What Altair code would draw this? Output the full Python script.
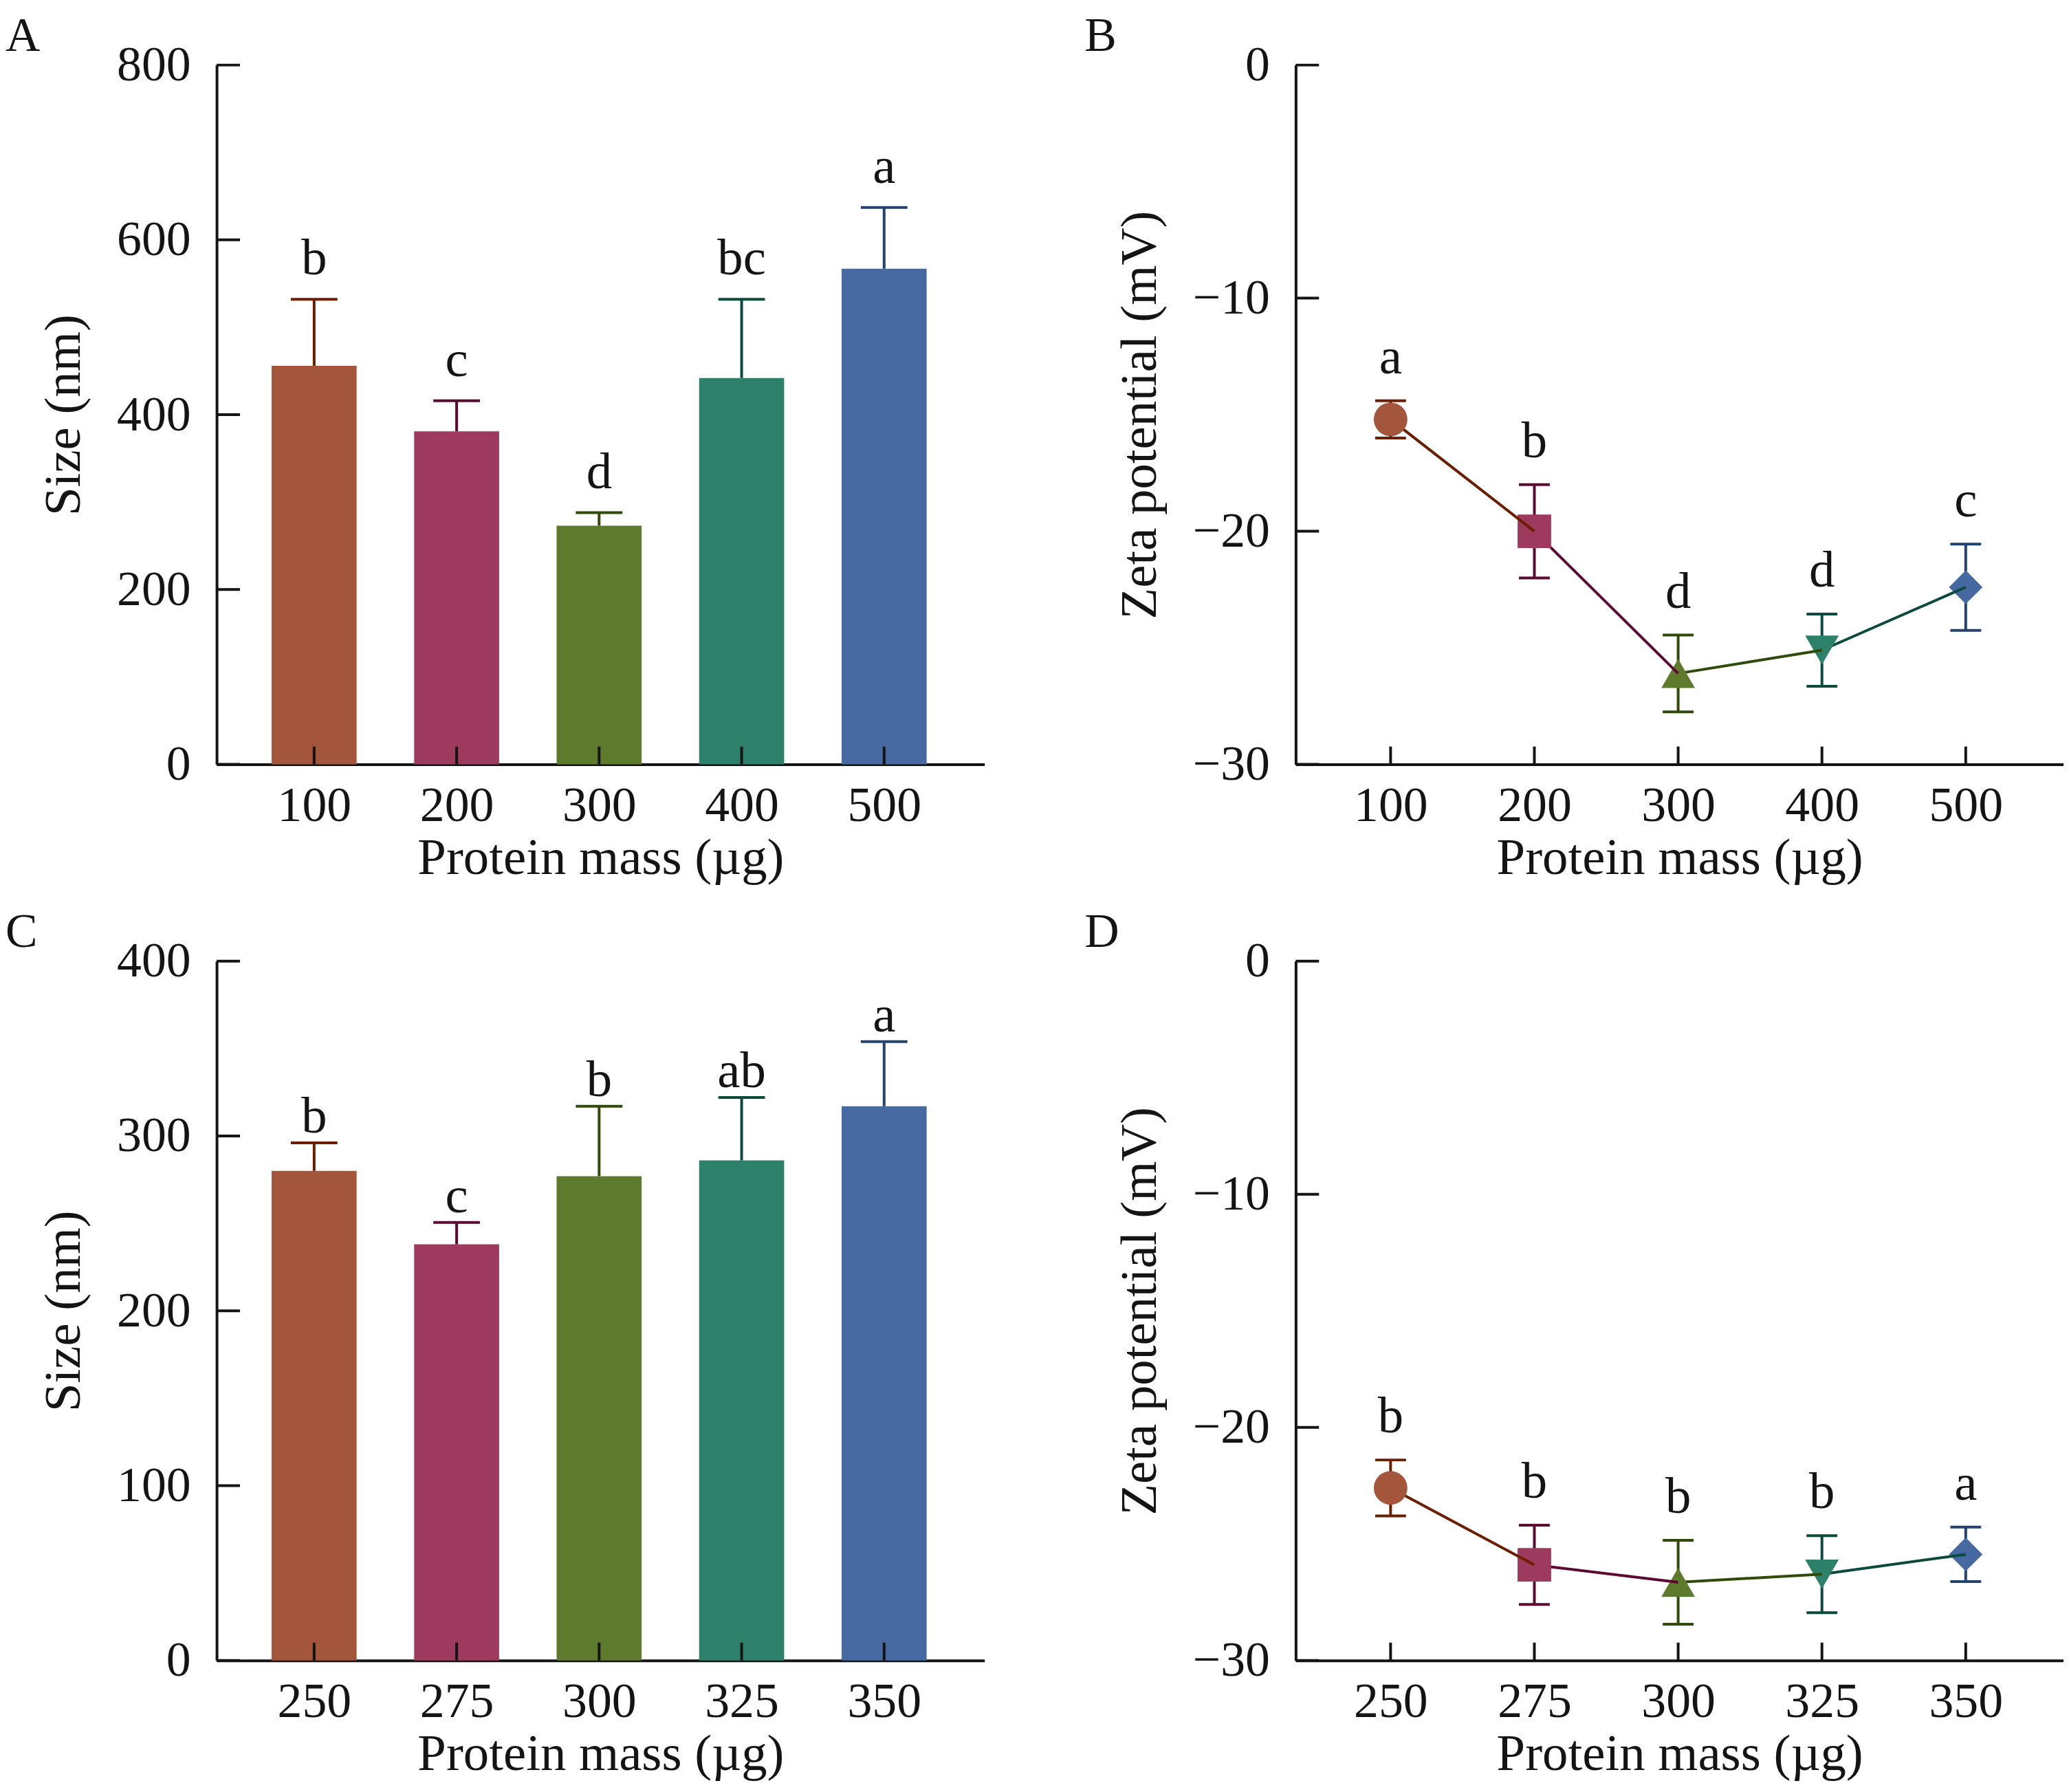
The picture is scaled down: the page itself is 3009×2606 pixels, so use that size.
import altair as alt
import pandas as pd

FONT = "Liberation Serif"
INK = "#141414"

# group colours (fill) and the darker tone used for error bars / lines
FILL = ["#A3563B", "#9E3A5D", "#5E7A2C", "#2D806A", "#4569A0"]
DARK = ["#6B1F00", "#5C0A31", "#2F4A09", "#0B4A3C", "#24426E"]
SHAPES = ["circle", "square", "triangle-up", "triangle-down", "diamond"]

# A / B: 100-500 ug protein
mass_ab = [100, 200, 300, 400, 500]
size_a = [456, 381, 273, 442, 567]
size_a_sd = [76, 35, 15, 90, 70]
letters_a = ["b", "c", "d", "bc", "a"]

zeta_b = [-15.2, -20.0, -26.1, -25.1, -22.4]
zeta_b_sd = [0.8, 2.0, 1.65, 1.55, 1.85]
letters_b = ["a", "b", "d", "d", "c"]

# C / D: 250-350 ug protein
mass_cd = [250, 275, 300, 325, 350]
size_c = [280, 238, 277, 286, 317]
size_c_sd = [16, 12.5, 40, 36, 37]
letters_c = ["b", "c", "b", "ab", "a"]

zeta_d = [-22.6, -25.9, -26.65, -26.3, -25.45]
zeta_d_sd = [1.2, 1.7, 1.8, 1.65, 1.17]
letters_d = ["b", "b", "b", "b", "a"]

size_ticks_a = [0, 200, 400, 600, 800]
size_ticks_c = [0, 100, 200, 300, 400]
zeta_ticks = [-30, -20, -10, 0]

W, H = 1120, 1020
LW = 4
XTITLE = "Protein mass (µg)"


def table(mass, val, sd, letters):
    df = pd.DataFrame({"mass": mass, "val": val, "sd": sd, "letter": letters})
    df["idx"] = range(len(df))
    df["lo"] = df["val"] - df["sd"]
    df["hi"] = df["val"] + df["sd"]
    df["mass_next"] = df["mass"].shift(-1)
    df["val_next"] = df["val"].shift(-1)
    return df


def axes(mass, xdom, ydom, yticks, ytitle):
    xs = alt.Scale(domain=xdom, nice=False, zero=False)
    ys = alt.Scale(domain=ydom, nice=False)
    xax = alt.Axis(values=mass, format="d", title=XTITLE)
    yax = alt.Axis(values=yticks, format="d", title=ytitle)

    def X(field="mass"):
        return alt.X(field + ":Q", scale=xs, axis=xax)

    def Y(field):
        return alt.Y(field + ":Q", scale=ys, axis=yax)
    return X, Y


def extras(X, Y, xvals, yvals, label):
    # inward tick marks and the panel letter
    yt = alt.Chart(pd.DataFrame({"v": yvals})).mark_rule(color=INK, strokeWidth=LW).encode(
        y=Y("v"), x=alt.value(0), x2=alt.value(34))
    xt = alt.Chart(pd.DataFrame({"m": xvals})).mark_rule(color=INK, strokeWidth=LW).encode(
        x=X("m"), y=alt.value(H), y2=alt.value(H - 26))
    lab = alt.Chart(pd.DataFrame({"p": [label]})).mark_text(
        font=FONT, fontSize=70, color=INK, align="left", baseline="middle"
    ).encode(x=alt.value(-308), y=alt.value(-42), text="p:N")
    return [yt, xt, lab]


def bar_panel(df, mass, xdom, ydom, yticks, label, dy):
    X, Y = axes(mass, xdom, ydom, yticks, "Size (nm)")
    base = alt.Chart(df)
    layers = []
    for i in range(len(df)):
        sub = base.transform_filter(alt.datum.idx == i)
        layers.append(sub.mark_bar(size=124, color=FILL[i]).encode(x=X(), y=Y("val")))
        layers.append(sub.mark_rule(color=DARK[i], strokeWidth=LW).encode(
            x=X(), y=Y("val"), y2="hi:Q"))
        layers.append(sub.mark_rule(color=DARK[i], strokeWidth=LW, xOffset=-34, x2Offset=34).encode(
            x=X(), x2="mass:Q", y=Y("hi")))
    layers.append(base.mark_text(font=FONT, fontSize=75, color=INK, baseline="alphabetic", dy=dy).encode(
        x=X(), y=Y("hi"), text="letter:N"))
    layers += extras(X, Y, mass, yticks, label)
    return alt.layer(*layers).properties(width=W, height=H)


def point_panel(df, mass, xdom, label, dy):
    X, Y = axes(mass, xdom, [-30, 0], zeta_ticks, "Zeta potential (mV)")
    base = alt.Chart(df)
    layers = []
    n = len(df)
    # draw from the last group backwards so each segment sits under its own marker
    for i in reversed(range(n)):
        sub = base.transform_filter(alt.datum.idx == i)
        if i < n - 1:
            layers.append(sub.mark_rule(color=DARK[i], strokeWidth=LW).encode(
                x=X(), y=Y("val"), x2="mass_next:Q", y2="val_next:Q"))
        layers.append(sub.mark_rule(color=DARK[i], strokeWidth=LW).encode(
            x=X(), y=Y("lo"), y2="hi:Q"))
        for end in ["lo", "hi"]:
            layers.append(sub.mark_rule(color=DARK[i], strokeWidth=LW, xOffset=-22.5, x2Offset=22.5).encode(
                x=X(), x2="mass:Q", y=Y(end)))
        layers.append(sub.mark_point(shape=SHAPES[i], filled=True, size=2400, color=FILL[i], opacity=1).encode(
            x=X(), y=Y("val")))
    layers.append(base.mark_text(font=FONT, fontSize=75, color=INK, baseline="alphabetic", dy=dy).encode(
        x=X(), y=Y("hi"), text="letter:N"))
    layers += extras(X, Y, mass, zeta_ticks, label)
    return alt.layer(*layers).properties(width=W, height=H)


a = bar_panel(table(mass_ab, size_a, size_a_sd, letters_a), mass_ab, [34, 568], [0, 800], size_ticks_a, "A", -36)
b = point_panel(table(mass_ab, zeta_b, zeta_b_sd, letters_b), mass_ab, [34, 568], "B", -40)
c = bar_panel(table(mass_cd, size_c, size_c_sd, letters_c), mass_cd, [233.5, 367], [0, 400], size_ticks_c, "C", -15)
d = point_panel(table(mass_cd, zeta_d, zeta_d_sd, letters_d), mass_cd, [233.5, 367], "D", -40)

chart = alt.vconcat(
    alt.hconcat(a, b, spacing=146),
    alt.hconcat(c, d, spacing=146),
    spacing=36,
).properties(padding={"top": 6, "left": 0, "right": 0, "bottom": 0}).configure_view(stroke=None).configure_axis(
    grid=False, ticks=False, tickSize=0, domainColor=INK, domainWidth=LW,
    labelFont=FONT, labelFontSize=72, labelColor=INK,
    titleFont=FONT, titleFontSize=75, titleFontWeight="normal", titleColor=INK,
).configure_axisX(labelPadding=25, titlePadding=4).configure_axisY(labelPadding=38, titlePadding=38)

chart.save("out.html", embed_options={"renderer": "svg", "actions": False})
